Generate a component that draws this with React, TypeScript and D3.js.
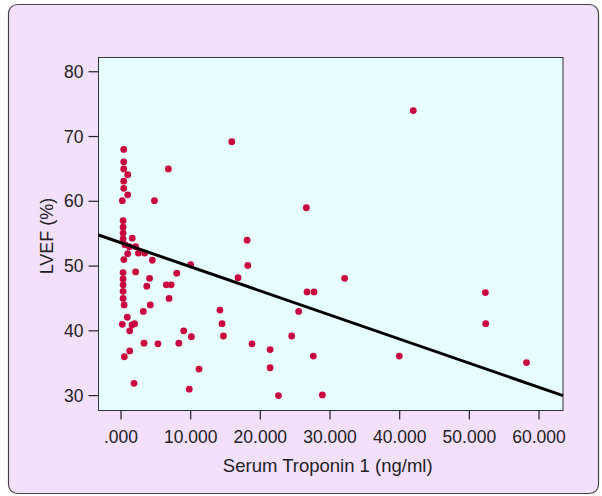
import React from "react";
import * as d3 from "d3";

// Serum troponin I (ng/ml) vs LVEF (%)
const troponin = [
  0.39, 0.39, 0.39, 0.96, 0.39, 0.39, 0.96, 0.19, 0.3, 0.3, 0.3, 0.3, 1.62, 0.57,
  1.2, 2.1, 2.5, 3.4, 0.96, 0.4, 4.5, 0.3, 2.1, 4.1, 0.3, 0.3, 3.7, 0.3, 0.3, 0.45,
  4.2, 3.2, 0.9, 0.19, 1.58, 1.96, 1.25, 3.3, 5.3, 1.25, 0.48, 1.87,
  6.8, 4.8, 15.9, 41.95, 10.0, 8.0, 6.5, 7.2, 6.9, 8.3, 18.1, 18.2, 16.8, 14.2,
  14.5, 14.7, 9.0, 10.1, 18.8, 11.2, 9.8, 26.6, 32.1, 26.7, 27.7, 25.5, 24.5,
  21.4, 27.6, 21.4, 22.6, 28.9, 52.3, 52.35, 39.95, 58.2,
];
const lvef = [
  68.0, 66.1, 65.0, 64.1, 63.1, 62.0, 61.0, 60.1, 57.0, 56.0, 55.1, 54.2, 54.3, 53.3,
  53.0, 53.0, 52.0, 52.0, 51.9, 51.0, 50.9, 49.0, 49.1, 48.1, 48.0, 47.1, 46.9, 46.1,
  45.0, 44.0, 44.0, 43.0, 42.1, 41.0, 40.9, 41.1, 40.0, 38.1, 38.0, 36.9, 36.0, 31.9,
  65.0, 60.1, 69.2, 74.0, 50.2, 48.9, 47.1, 47.1, 45.0, 38.1, 54.0, 50.1, 48.2, 43.2,
  41.1, 39.2, 40.0, 39.1, 38.0, 34.1, 31.0, 59.0, 48.1, 46.0, 46.0, 43.0, 39.2,
  37.1, 36.1, 34.3, 30.0, 30.1, 45.9, 41.1, 36.1, 35.1,
];
const xTicks = [0, 10, 20, 30, 40, 50, 60];
const yTicks = [30, 40, 50, 60, 70, 80];
const fitIntercept = 53.6;
const fitSlope = -0.372;

const W = 602;
const H = 496;
const left = 98.5;
const right = 563;
const top = 57.5;
const bottom = 410.5;
const font = "'Liberation Sans', Arial, sans-serif";

export default function App() {
  const x = d3.scaleLinear().domain([-3.23, 63.44]).range([left, right]);
  const y = d3.scaleLinear().domain([27.7, 82.2]).range([bottom, top]);
  const fmtX = (d: number) => (d === 0 ? ".000" : d3.format(".3f")(d));

  const [x0, x1] = x.domain();
  const fitLine = d3.line<number>()
    .x((d) => x(d))
    .y((d) => y(fitIntercept + fitSlope * d))([x0, x1]);

  return (
    <svg width={W} height={H} style={{ position: "absolute", left: 0, top: 0 }}>
      <rect width={W} height={H} fill="#ffffff" />
      <rect x={8.5} y={4.5} width={590} height={489} rx={9} fill="#f3e0fc" stroke="#444" strokeWidth={1.2} />

      <rect x={left} y={top} width={right - left} height={bottom - top} fill="#e6fefe" stroke="#333" strokeWidth={1} />

      {/* y axis */}
      {yTicks.map((t) => (
        <g key={t} transform={`translate(0,${y(t)})`}>
          <line x1={left - 10} x2={left} stroke="#222" strokeWidth={1.2} />
          <text x={left - 15} dy="0.35em" textAnchor="end" fontSize={17.5} fontFamily={font} fill="#222">
            {t}
          </text>
        </g>
      ))}
      <text
        transform={`translate(47,${(top + bottom) / 2 + 2}) rotate(-90)`}
        textAnchor="middle"
        dy="0.35em"
        fontSize={18}
        fontFamily={font}
        fill="#222"
      >
        LVEF (%)
      </text>

      {/* x axis */}
      {xTicks.map((t) => (
        <g key={t} transform={`translate(${x(t)},0)`}>
          <line y1={bottom} y2={bottom + 9} stroke="#222" strokeWidth={1.2} />
          <text y={bottom + 32} textAnchor="middle" fontSize={17.5} fontFamily={font} fill="#222">
            {fmtX(t)}
          </text>
        </g>
      ))}
      <text x={(left + right) / 2 - 3} y={bottom + 61} textAnchor="middle" fontSize={18.5} fontFamily={font} fill="#222">
        Serum Troponin 1 (ng/ml)
      </text>

      {/* points */}
      {troponin.map((v, i) => (
        <circle key={i} cx={x(v)} cy={y(lvef[i])} r={3.4} fill="#c8063f" />
      ))}

      {/* fit line */}
      <path d={fitLine || ""} fill="none" stroke="#000" strokeWidth={3} />
    </svg>
  );
}
